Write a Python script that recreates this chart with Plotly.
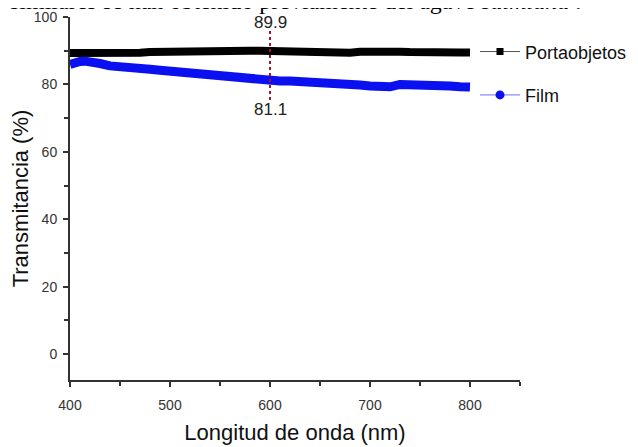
import plotly.graph_objects as go

wavelength = [400, 405, 410, 415, 420, 430, 440, 450, 460, 470, 480, 490, 500, 510, 520, 530, 540,
              550, 560, 570, 580, 590, 600, 610, 620, 630, 640, 650, 660, 670, 680, 690, 700,
              710, 715, 720, 730, 740, 750, 760, 770, 780, 790, 800]
portaobjetos = [89.3, 89.3, 89.3, 89.2, 89.2, 89.1, 89.0, 89.0, 89.2, 89.4, 89.6, 89.7, 89.8, 89.9, 90.0, 90.0, 90.1,
                90.1, 90.1, 90.0, 90.0, 90.0, 89.9, 89.8, 89.7, 89.6, 89.6, 89.5, 89.5, 89.4, 89.4, 89.7, 89.8,
                89.8, 89.8, 89.7, 89.7, 89.6, 89.7, 89.6, 89.5, 89.6, 89.5, 89.5]
film = [85.9, 86.5, 86.8, 86.9, 86.8, 86.2, 85.5, 85.1, 84.9, 84.7, 84.5, 84.2, 83.9, 83.6, 83.3, 83.0, 82.7,
        82.4, 82.0, 81.8, 81.5, 81.3, 81.1, 81.0, 81.0, 80.9, 80.8, 80.6, 80.5, 80.2, 80.0, 79.8, 79.5,
        79.2, 79.1, 79.3, 80.0, 80.0, 79.9, 79.8, 79.7, 79.5, 79.3, 79.2]

marker_x = [600, 600]
marker_y = [75.4, 96.1]
marker_labels = ["89.9", "81.1"]
marker_label_y = [98.4, 72.6]

x_ticks = [400, 500, 600, 700, 800]
y_ticks = [0, 20, 40, 60, 80, 100]

font = "Liberation Sans, Arial, sans-serif"

fig = go.Figure()
fig.add_trace(go.Scatter(x=wavelength, y=portaobjetos, mode="lines",
                         line=dict(color="#000000", width=8), showlegend=False, hoverinfo="skip"))
fig.add_trace(go.Scatter(x=wavelength, y=film, mode="lines",
                         line=dict(color="#0a10f0", width=9), showlegend=False, hoverinfo="skip"))
fig.add_trace(go.Scatter(x=marker_x, y=marker_y, mode="lines",
                         line=dict(color="#a3142c", width=2, dash="dot"), showlegend=False, hoverinfo="skip"))

# legend entries
fig.add_trace(go.Scatter(x=[None], y=[None], mode="lines+markers", name="Portaobjetos",
                         legendgroup="a",
                         line=dict(color="#555555", width=1),
                         marker=dict(symbol="square", size=7, color="#000000")))
fig.add_trace(go.Scatter(x=[None], y=[None], mode="lines+markers", name="Film",
                         legendgroup="b",
                         line=dict(color="#6f6fff", width=1),
                         marker=dict(symbol="circle", size=9, color="#0a10f0")))

for lbl, ly in zip(marker_labels, marker_label_y):
    fig.add_annotation(x=600, y=ly, text=lbl, showarrow=False,
                       font=dict(family=font, size=17, color="#222222"))

fig.add_annotation(xref="paper", yref="paper", x=-0.138, y=1, xanchor="left", yanchor="middle",
                   yshift=16, showarrow=False,
                   text="similares se han obtenido previamente del agave <i>salmiana</i> .",
                   font=dict(family="Liberation Serif, Times New Roman, serif", size=24, color="#000000"))

axis_common = dict(showline=True, linecolor="#333333", linewidth=2, ticks="outside",
                   ticklen=5, tickwidth=1.5, tickcolor="#333333", showgrid=False, zeroline=False,
                   automargin=False,
                   tickfont=dict(family=font, size=14, color="#333333"))

fig.update_xaxes(range=[400, 850], tickvals=x_ticks, ticklabelstandoff=6,
                 title=dict(text="Longitud de onda (nm)", font=dict(family=font, size=22, color="#111111"), standoff=13),
                 minor=dict(ticks="outside", ticklen=4, tickwidth=1.5, tickcolor="#333333", dtick=50, tick0=400),
                 **axis_common)
fig.update_yaxes(range=[-7.7, 100], tickvals=y_ticks, ticklabelstandoff=3,
                 title=dict(text="Transmitancia (%)", font=dict(family=font, size=22, color="#111111"), standoff=3),
                 minor=dict(ticks="outside", ticklen=4, tickwidth=1.5, tickcolor="#333333", dtick=10, tick0=0),
                 **axis_common)

fig.update_layout(
    width=638, height=447,
    margin=dict(l=62, r=126, t=9, b=75, autoexpand=False),
    paper_bgcolor="white", plot_bgcolor="white",
    legend=dict(x=0.90, y=0.955, xanchor="left", yanchor="top", xref="paper", yref="paper",
                font=dict(family=font, size=18, color="#111111"), itemwidth=40,
                bgcolor="rgba(0,0,0,0)", tracegroupgap=17, traceorder="grouped"),
    showlegend=True,
)

fig.write_html("out.html")
